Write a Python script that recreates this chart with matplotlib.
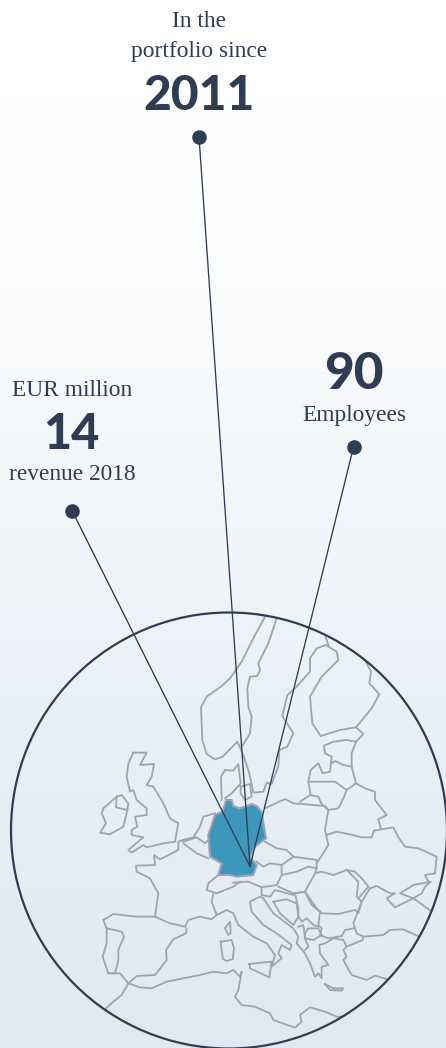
import numpy as np
import matplotlib
matplotlib.use('Agg')
import matplotlib.pyplot as plt
from matplotlib.patches import Circle, Polygon

INK = '#2f3d54'
BORDER = '#9ba4b3'
SERIF = 'Liberation Serif'
NUMS = 'Lato'

# outlines, in 3x crop coordinates
germany = [(678,600),(695,600),(700,618),(718,625),(735,620),(755,612),(770,618),(785,635),(790,670),(798,715),(765,740),(750,770),(770,795),(760,825),(710,830),(690,825),(655,825),(665,790),(630,770),(625,705),(645,645),(668,635)]
sicily = [(748,1092),(815,1085),(808,1132),(750,1105),(748,1092)]
sardinia = [(662,1025),(695,1020),(702,1045),(698,1078),(678,1083),(668,1075),(662,1025)]
corsica = [(675,985),(690,965),(692,1000),(685,1005),(675,985)]
crete = [(975,1152),(1000,1165),(1030,1165),(1025,1172),(990,1170),(975,1152)]
britain = [(400,458),(440,458),(420,495),(462,492),(455,530),(440,555),(460,560),(490,610),(510,655),(535,670),(530,695),(525,725),(490,730),(440,742),(430,735),(395,758),(385,750),(430,712),(395,705),(395,690),(412,680),(405,650),(440,645),(440,625),(410,600),(400,570),(390,575),(380,530),(385,490),(400,458)]
ireland = [(350,590),(310,625),(305,640),(318,670),(300,698),(330,703),(370,680),(380,640),(385,610),(365,585),(350,590)]
ulster = [(350,590),(348,622),(382,630)]
denmark = [(665,600),(663,530),(675,510),(700,512),(715,492),(718,520),(722,550),(695,580),(675,595)]
zealand = [(722,560),(750,552),(755,590),(735,600),(722,580),(722,560)]
scandinavia = [(795,50),(760,115),(725,185),(690,235),(665,258),(620,290),(603,322),(607,420),(620,462),(645,478),(668,470),(712,425),(730,465),(748,520),(760,578),(790,575),(800,548),(815,552),(835,500),(838,450),(862,440),(880,400),(847,348),(862,285),(888,262),(930,215),(930,175),(950,145),(978,135),(1010,155),(1015,180),(965,230),(930,290),(937,370),(962,408),(1020,390),(1068,382),(1090,402),(1068,425)]
norway_border = [(830,55),(805,130),(775,190),(780,210),(772,228),(750,230),(742,265),(745,320),(755,350),(750,400),(725,440)]
finland_n = [(975,105),(985,135)]
finland_e = [(1095,180),(1113,215),(1108,250),(1138,283),(1115,325),(1068,382)]
estonia = [(1068,425),(1040,420),(1000,425),(972,437),(975,460),(995,470),(990,515),(968,520),(955,490),(932,510),(925,545),(932,585)]
estonia_e = [(1068,425),(1055,460),(1055,500)]
latvia = [(925,545),(960,545),(1005,545),(1040,570),(1068,550),(1055,500),(1030,495),(1005,483),(995,490)]
lithuania = [(1040,570),(1030,595),(1015,625),(985,630),(965,612),(955,590),(930,585),(900,605)]
belarus = [(1068,550),(1095,565),(1125,575),(1125,600),(1160,645),(1135,658),(1142,685)]
ukraine_n = [(980,705),(1010,695),(1050,703),(1085,712),(1115,712),(1122,692),(1180,682),(1195,712),(1215,740),(1255,745),(1310,770),(1305,820),(1275,825),(1285,845)]
poland = [(795,625),(855,597),(880,610),(905,612),(975,618),(985,630),(975,690),(985,735),(960,775),(950,790)]
czech_n = [(795,725),(830,745),(860,750),(880,770),(915,775),(950,780)]
czech_s = [(880,770),(845,795),(810,790),(790,800),(770,785)]
slovakia = [(845,795),(845,825),(890,815),(925,800),(950,805),(950,785)]
austria = [(845,825),(830,855),(785,862),(745,845),(700,848)]
hungary = [(835,860),(880,880),(915,875),(945,820),(950,805)]
romania_n = [(945,820),(965,815),(1000,825),(1040,810),(1065,815),(1090,840),(1105,860),(1075,895)]
moldova = [(1040,810),(1075,845),(1070,890),(1085,905)]
romania_s = [(915,875),(950,925),(965,940),(1015,942),(1065,930),(1075,940),(1085,905),(1110,865)]
ukraine_s = [(1110,865),(1130,858),(1170,880),(1185,880),(1160,895),(1185,922),(1240,895),(1265,880),(1275,860),(1292,845),(1240,855),(1200,880),(1240,895),(1300,938)]
black_sea_w = [(1085,905),(1060,970),(1070,1000),(1090,1010),(1150,1005),(1170,990),(1210,988),(1265,1013)]
thrace = [(1090,1010),(1088,1020),(1040,1040),(1030,1050),(1040,1070),(1030,1080),(1055,1125),(1100,1140),(1125,1127),(1170,1140)]
france_w = [(465,950),(475,880),(450,835),(410,815),(408,797),(465,795),(462,765),(480,778),(535,750),(535,725),(550,720)]
pyrenees = [(310,960),(340,942),(410,950),(465,950),(510,970),(555,980)]
france_s = [(555,980),(565,960),(600,950),(635,958),(650,945),(635,905),(640,880)]
spain_e = [(560,985),(558,1000),(520,1018),(498,1050),(500,1080),(465,1125),(410,1128),(385,1150)]
portugal = [(310,960),(320,985),(365,995),(372,1010),(355,1050),(355,1080),(345,1120),(325,1120),(308,1070),(320,1030),(320,985)]
africa = [(325,1120),(360,1120),(385,1150),(420,1162),(455,1165),(500,1145),(600,1125),(640,1115),(680,1120),(700,1110),(720,1130),(725,1115),(715,1170),(705,1190),(725,1215),(765,1220),(810,1240),(820,1260),(885,1283),(905,1265),(900,1245),(930,1222),(975,1235),(1010,1250),(1040,1250)]
morocco = [(385,1150),(365,1185),(340,1205),(315,1228)]
italy_w = [(650,945),(680,930),(700,940),(715,975),(760,1010),(800,1030),(825,1065),(815,1100),(845,1075),(835,1060),(845,1035),(870,1050),(875,1035),(830,1000),(790,975),(755,935),(750,905),(780,890),(790,895)]
benelux_n = [(550,720),(580,712),(600,680),(610,650),(645,640)]
belgium = [(550,725),(590,712),(615,730),(625,720)]
belgium_s = [(550,730),(590,760),(625,775)]
swiss = [(655,825),(625,850),(620,870),(650,880),(700,860),(720,845)]
slovenia = [(785,862),(785,885),(810,890),(825,870),(880,885)]
bosnia = [(820,905),(860,898),(890,910),(895,950),(880,975),(840,940),(820,905)]
adriatic = [(790,895),(820,940),(880,985),(895,1010),(890,1030),(915,1060),(930,1090),(945,1130),(955,1120),(965,1135),(965,1100),(985,1095),(960,1060),(958,1035),(975,1030),(1000,1015),(1030,1020),(1040,1040)]
serbia = [(885,880),(915,875),(935,915),(960,935),(955,975),(965,985),(960,1005),(985,1015),(1025,1008),(1035,990),(1060,985)]
serbia_w = [(885,880),(895,925),(895,950),(905,965),(920,955),(940,975),(955,980)]
macedonia = [(915,1015),(940,1020),(965,1005),(955,985),(925,985),(915,1000),(915,1015)]
albania = [(895,980),(910,975),(915,1015),(925,1040),(915,1050)]

outlines = [sicily, sardinia, corsica, crete, britain, ireland, ulster, denmark, zealand, scandinavia,
            norway_border, finland_n, finland_e, estonia, estonia_e, latvia, lithuania, belarus, ukraine_n,
            poland, czech_n, czech_s, slovakia, austria, hungary, romania_n, moldova, romania_s, ukraine_s,
            black_sea_w, thrace, france_w, pyrenees, france_s, spain_e, portugal, africa, morocco, italy_w,
            benelux_n, belgium, belgium_s, swiss, slovenia, bosnia, adriatic, serbia, serbia_w, macedonia, albania]

dots = [(199, 137), (72, 510.5), (353.5, 447)]
hub = (250, 866.5)

grad_y = [0, 100, 340, 530, 700, 1048]
grad_r = [255, 255, 248, 242, 234, 223]
grad_g = [255, 255, 250, 246, 240, 233]
grad_b = [255, 255, 252, 250, 247, 242]


def to_px(pts):
    a = np.array(pts, dtype=float)
    return a[:, 0] / 3, 600 + a[:, 1] / 3


fig = plt.figure(figsize=(4.46, 10.48), dpi=100)
ax = fig.add_axes([0, 0, 1, 1])
ax.set_xlim(0, 446)
ax.set_ylim(1048, 0)
ax.axis('off')

ys = np.arange(1048)
bg = np.stack([np.interp(ys, grad_y, grad_r), np.interp(ys, grad_y, grad_g), np.interp(ys, grad_y, grad_b)], axis=1) / 255
ax.imshow(bg[:, None, :], extent=(0, 446, 1048, 0), aspect='auto', zorder=0)

clip = Circle((229, 830.5), 218, transform=ax.transData)

for pts in outlines:
    x, y = to_px(pts)
    ln, = ax.plot(x, y, color=BORDER, lw=1.3, solid_joinstyle='round', zorder=2)
    ln.set_clip_path(clip)

gx, gy = to_px(germany)
ax.add_patch(Polygon(np.column_stack([gx, gy]), closed=True, fc='#3d97bb', ec=BORDER, lw=1.5, zorder=3))

ax.add_patch(Circle((229, 830.5), 218, fc='none', ec=INK, lw=1.6, zorder=4))

for dx, dy in dots:
    ax.plot([dx, hub[0]], [dy, hub[1]], color=INK, lw=0.95, zorder=5)
    ax.plot(dx, dy, 'o', color=INK, ms=10.5, mew=0, zorder=6)


def serif(x, y, s):
    ax.text(x, y, s, family=SERIF, fontsize=16.8, color=INK, ha='center', va='baseline', zorder=7)


def big(x, y, s, size):
    ax.text(x, y, s, family=NUMS, fontweight='black', fontsize=size, color=INK, ha='center', va='baseline', zorder=7)


serif(199, 27, 'In the')
serif(199, 57, 'portfolio since')
big(199, 110, '2011', 34.5)
big(354, 389, '90', 37)
serif(354, 421, 'Employees')
serif(72, 396, 'EUR million')
big(71.5, 449, '14', 35)
serif(72, 480, 'revenue 2018')

fig.savefig('out.png', dpi=100)
